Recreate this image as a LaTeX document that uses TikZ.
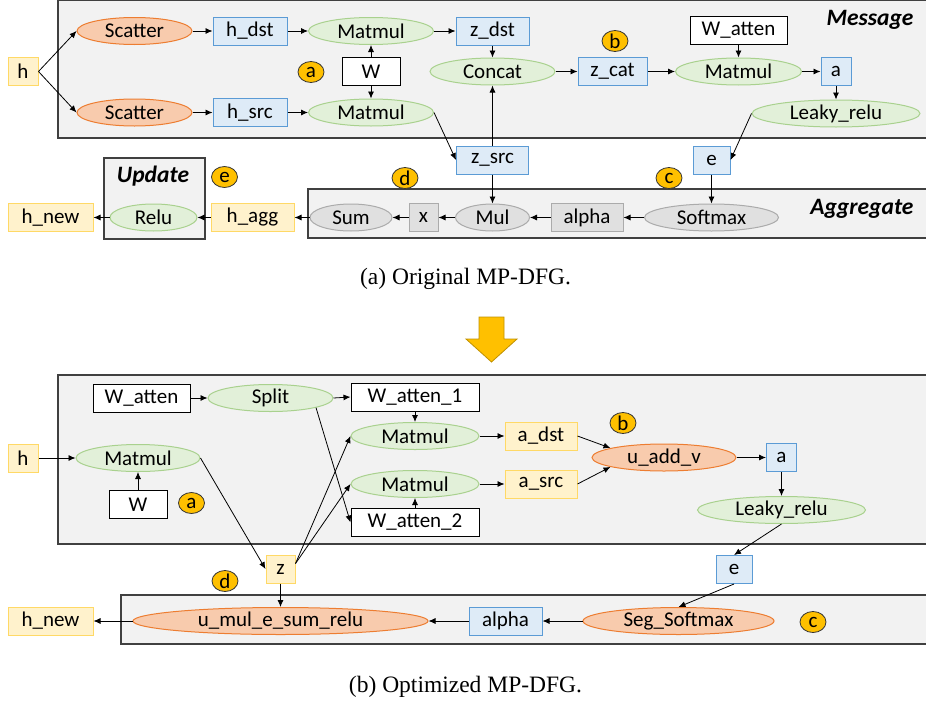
\documentclass[tikz,border=0pt]{standalone}
\usepackage{fontspec}
\setmainfont{Carlito}
\newfontfamily\capfont{Liberation Serif}
\usetikzlibrary{shapes.geometric,arrows.meta}
\definecolor{fillblue}{HTML}{DEEBF7}
\definecolor{lineblue}{HTML}{5B9BD5}
\definecolor{fillgreen}{HTML}{E2F0D9}
\definecolor{linegreen}{HTML}{A9D18E}
\definecolor{fillorange}{HTML}{F8CBAD}
\definecolor{lineorange}{HTML}{ED7D31}
\definecolor{fillyellow}{HTML}{FFF2CC}
\definecolor{lineyellow}{HTML}{FFD966}
\definecolor{fillgray}{HTML}{E0E0E0}
\definecolor{linegray}{HTML}{ABABAB}
\definecolor{panelgray}{HTML}{F2F2F2}
\definecolor{badgeyellow}{HTML}{FFC000}
\definecolor{arrowline}{HTML}{BF9000}
\tikzset{myedge/.style={black,line width=0.8pt,-{Latex[length=7pt,width=6pt]}}}
\tikzset{mybox/.style={draw,rectangle,inner sep=0pt,minimum height=28pt,line width=1pt,font=\fontsize{21}{24}\selectfont}}
\tikzset{myop/.style={draw,ellipse,inner sep=0pt,minimum height=27pt,line width=1pt,font=\fontsize{21}{24}\selectfont}}
\tikzset{bluebox/.style={mybox,fill=fillblue,draw=lineblue,minimum width=#1}}
\tikzset{yellowbox/.style={mybox,fill=fillyellow,draw=lineyellow,minimum width=#1}}
\tikzset{whitebox/.style={mybox,fill=white,draw=black,minimum width=#1}}
\tikzset{graybox/.style={mybox,fill=fillgray,draw=linegray,minimum width=#1}}
\tikzset{greenop/.style={myop,fill=fillgreen,draw=linegreen,minimum width=#1}}
\tikzset{orangeop/.style={myop,fill=fillorange,draw=lineorange,minimum width=#1}}
\tikzset{grayop/.style={myop,fill=fillgray,draw=linegray,minimum width=#1}}
\tikzset{badge/.style={ellipse,draw=black!80,fill=badgeyellow,line width=0.8pt,inner sep=0pt,minimum width=26pt,minimum height=21pt,font=\fontsize{21}{24}\selectfont}}
\tikzset{panel/.style={draw=black!75,fill=panelgray,line width=1.2pt}}
\tikzset{mytitle/.style={font=\fontsize{23.5}{27}\selectfont\bfseries\itshape}}
\tikzset{mycaption/.style={font=\capfont\fontsize{23.5}{28}\selectfont}}

\begin{document}
\begin{tikzpicture}[x=1pt,y=-1pt]
	\useasboundingbox (0,0) rectangle (926,704);

	% (a) original
	\draw[panel] (58,0.6) rectangle (928,138);
	\draw[panel] (308,189) rectangle (928,238);
	\draw[panel] (104,158) rectangle (205,239);
	\node[mytitle,anchor=east] (tmsg) at (917,20) {Message};
	\node[mytitle,anchor=east] (tagg) at (917,209) {Aggregate};
	\node[mytitle] (tupd) at (153,176) {Update};

	\node[yellowbox=30] (h) at (23,71.5) {h};
	\node[orangeop=115] (scd) at (134.5,31) {Scatter};
	\node[orangeop=115] (scs) at (134.5,112.5) {Scatter};
	\node[bluebox=74] (hdst) at (250,31) {h\_dst};
	\node[bluebox=74] (hsrc) at (250,112.5) {h\_src};
	\node[greenop=125] (mmd) at (371,31) {Matmul};
	\node[greenop=125] (mms) at (371,112.5) {Matmul};
	\node[whitebox=58] (w) at (371,71.5) {W};
	\node[badge] (ba) at (311,72) {a};
	\node[bluebox=73] (zdst) at (492.5,31) {z\_dst};
	\node[greenop=125] (concat) at (492.5,71.5) {Concat};
	\node[bluebox=69] (zcat) at (612.5,71.5) {z\_cat};
	\node[badge] (bb) at (615,41) {b};
	\node[whitebox=97] (watt) at (738.5,30) {W\_atten};
	\node[greenop=126] (mma) at (738.5,71.5) {Matmul};
	\node[bluebox=30] (a) at (836,71.5) {a};
	\node[greenop=168] (leaky) at (836,113.5) {Leaky\_relu};
	\node[bluebox=72] (zsrc) at (492.5,160) {z\_src};
	\node[bluebox=37] (e) at (711.5,160) {e};
	\node[badge] (bc) at (669,178) {c};
	\node[badge] (bd) at (405,178) {d};
	\node[grayop=134] (softmax) at (711.5,217.5) {Softmax};
	\node[graybox=72] (alpha) at (587,217.5) {alpha};
	\node[grayop=74] (mul) at (492.5,217.5) {Mul};
	\node[graybox=29] (x) at (423.5,217.5) {x};
	\node[grayop=82] (sum) at (351,217.5) {Sum};
	\node[yellowbox=83] (hagg) at (252.5,217.5) {h\_agg};
	\node[greenop=87] (relu) at (153.5,217.5) {Relu};
	\node[yellowbox=85] (hnew) at (50.5,217.5) {h\_new};
	\node[badge] (be) at (224.5,177) {e};

	\draw[myedge] (h.east) -- (scd.west);
	\draw[myedge] (h.east) -- (scs.west);
	\draw[myedge] (scd) -- (hdst);
	\draw[myedge] (scs) -- (hsrc);
	\draw[myedge] (hdst) -- (mmd);
	\draw[myedge] (hsrc) -- (mms);
	\draw[myedge] (w) -- (mmd);
	\draw[myedge] (w) -- (mms);
	\draw[myedge] (mmd) -- (zdst);
	\draw[myedge] (mms.east) -- (zsrc.west);
	\draw[myedge] (zdst) -- (concat);
	\draw[myedge] (zsrc) -- (concat);
	\draw[myedge] (concat) -- (zcat);
	\draw[myedge] (zcat) -- (mma);
	\draw[myedge] (watt) -- (mma);
	\draw[myedge] (mma) -- (a);
	\draw[myedge] (a) -- (leaky);
	\draw[myedge] (leaky.west) -- (e.east);
	\draw[myedge] (e) -- (softmax);
	\draw[myedge] (softmax) -- (alpha);
	\draw[myedge] (alpha) -- (mul);
	\draw[myedge] (zsrc) -- (mul);
	\draw[myedge] (mul) -- (x);
	\draw[myedge] (x) -- (sum);
	\draw[myedge] (sum) -- (hagg);
	\draw[myedge] (hagg) -- (relu);
	\draw[myedge] (relu) -- (hnew);

	\node[mycaption] (capa) at (465.5,279) {(a) Original MP-DFG.};
	\draw[fill=badgeyellow,draw=arrowline,line width=0.8pt] (479,317) -- (504,317) -- (504,339) -- (517,339) -- (491.5,362) -- (466,339) -- (479,339) -- cycle;

	% (b) optimized
	\draw[panel] (58,375) rectangle (928,544);
	\draw[panel] (121,595) rectangle (928,644);

	\node[whitebox=97] (watt2) at (141.5,398) {W\_atten};
	\node[greenop=125] (split) at (270.5,398) {Split};
	\node[whitebox=128] (watt21) at (415,397) {W\_atten\_1};
	\node[greenop=128] (mm21) at (415,436) {Matmul};
	\node[greenop=128] (mm22) at (415,484) {Matmul};
	\node[whitebox=128] (watt22) at (415,522.5) {W\_atten\_2};
	\node[yellowbox=30] (h2) at (23,458) {h};
	\node[greenop=124] (mm2) at (138,458) {Matmul};
	\node[whitebox=58] (w2) at (138,504.5) {W};
	\node[badge] (ba2) at (191.5,503) {a};
	\node[yellowbox=72] (adst) at (541,436) {a\_dst};
	\node[yellowbox=72] (asrc) at (541,484) {a\_src};
	\node[orangeop=144] (uaddv) at (664,457.5) {u\_add\_v};
	\node[badge] (bb2) at (623,423) {b};
	\node[bluebox=30] (a2) at (781.5,457.5) {a};
	\node[greenop=168] (leaky2) at (781.5,510) {Leaky\_relu};
	\node[bluebox=36] (e2) at (734,569.5) {e};
	\node[yellowbox=29] (z) at (280.5,569) {z};
	\node[badge] (bd2) at (225,581) {d};
	\node[orangeop=295] (umul) at (280.5,621) {u\_mul\_e\_sum\_relu};
	\node[yellowbox=85] (hnew2) at (50.5,621) {h\_new};
	\node[bluebox=73] (alpha2) at (505.5,621) {alpha};
	\node[orangeop=191] (segsm) at (678.5,621) {Seg\_Softmax};
	\node[badge] (bc2) at (813,622) {c};

	\draw[myedge] (watt2) -- (split);
	\draw[myedge] (split.east) -- (watt21.west);
	\draw[myedge] (split.-12) -- (watt22.west);
	\draw[myedge] (watt21) -- (mm21);
	\draw[myedge] (watt22) -- (mm22);
	\draw[myedge] (h2) -- (mm2);
	\draw[myedge] (w2) -- (mm2);
	\draw[myedge] (mm2.east) -- (z.west);
	\draw[myedge] (z.20) -- (mm21.west);
	\draw[myedge] (z.20) -- (mm22.west);
	\draw[myedge] (mm21) -- (adst);
	\draw[myedge] (mm22) -- (asrc);
	\draw[myedge] (adst.east) -- (uaddv.170);
	\draw[myedge] (asrc.east) -- (uaddv.190);
	\draw[myedge] (uaddv) -- (a2);
	\draw[myedge] (a2) -- (leaky2);
	\draw[myedge] (leaky2.south) -- (e2.north);
	\draw[myedge] (e2.south) -- (segsm.north);
	\draw[myedge] (z) -- (umul);
	\draw[myedge] (segsm) -- (alpha2);
	\draw[myedge] (alpha2) -- (umul);
	\draw[myedge] (umul) -- (hnew2);

	\node[mycaption] (capb) at (465.5,687) {(b) Optimized MP-DFG.};
\end{tikzpicture}
\end{document}
